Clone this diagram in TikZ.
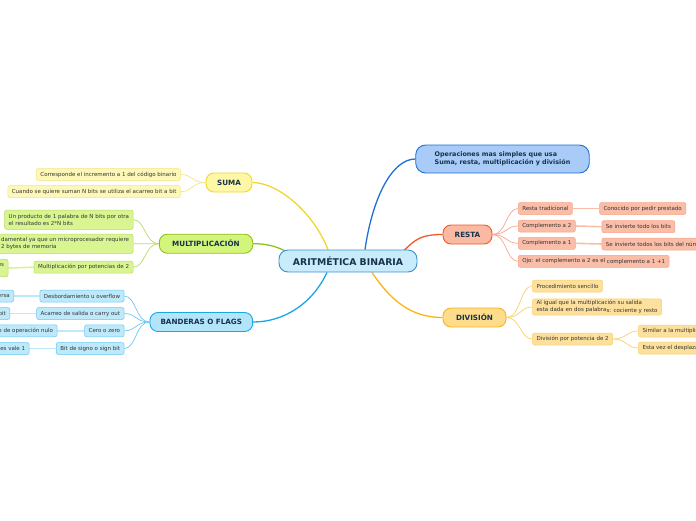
\documentclass[tikz,border=0pt]{standalone}
\usepackage{fontspec}
\setmainfont{DejaVu Sans}
\usetikzlibrary{backgrounds}

\definecolor{rootfill}{HTML}{C8ECFB}
\definecolor{rootline}{HTML}{3A8FD0}
\definecolor{textdark}{HTML}{17324A}
\definecolor{leaftext}{HTML}{333333}
\definecolor{opsfill}{HTML}{A8CBF8}
\definecolor{opsline}{HTML}{1F6FD8}
\definecolor{restafill}{HTML}{F9B9A3}
\definecolor{restaline}{HTML}{F05A28}
\definecolor{restaleaf}{HTML}{F9BDA8}
\definecolor{restatwig}{HTML}{F6A58A}
\definecolor{divfill}{HTML}{FDDC8C}
\definecolor{divline}{HTML}{F9B515}
\definecolor{divleaf}{HTML}{FDE09C}
\definecolor{divtwig}{HTML}{F8CF6E}
\definecolor{sumafill}{HTML}{FDF7A6}
\definecolor{sumaline}{HTML}{F0D630}
\definecolor{sumaleaf}{HTML}{FDF8B8}
\definecolor{sumatwig}{HTML}{F2E58A}
\definecolor{multfill}{HTML}{D4F57C}
\definecolor{multline}{HTML}{8CC21E}
\definecolor{multleaf}{HTML}{D8F592}
\definecolor{multtwig}{HTML}{B8DC66}
\definecolor{flagfill}{HTML}{B2E5FA}
\definecolor{flagline}{HTML}{1BA6E6}
\definecolor{flagleaf}{HTML}{BDE9FB}
\definecolor{flagtwig}{HTML}{6CC8F0}

\begin{document}
\begin{tikzpicture}[
  x=1pt, y=-1pt,
  root/.style={draw=rootline, fill=rootfill, line width=0.9pt, rounded corners=9pt, minimum width=138pt, minimum height=22pt, inner sep=0pt, text=textdark, font=\fontsize{9.3}{10.5}\selectfont\bfseries},
  branch/.style={line width=0.9pt, rounded corners=8pt, minimum height=19pt, inner sep=0pt, text=textdark, font=\fontsize{7.2}{8}\selectfont\bfseries},
  leaf/.style={line width=0.5pt, rounded corners=2pt, minimum height=12pt, inner xsep=4pt, inner ysep=1.5pt, align=left, text=leaftext, font=\fontsize{5.5}{6.8}\selectfont},
  link/.style={line width=1.3pt},
  twig/.style={line width=0.7pt},
  stem/.style={line width=1.6pt}
]
  \useasboundingbox (0,0) rectangle (696,520);
  \clip (0,0) rectangle (696,520);

  % centre and top
  \node[root] (root) at (348,261) {ARITMÉTICA BINARIA};
  \node[draw=opsline, fill=opsfill, line width=0.9pt, rounded corners=10pt, minimum height=28pt, inner xsep=19pt, inner ysep=0pt, align=left, text=textdark, font=\fontsize{6.4}{8}\selectfont\bfseries] (ops) at (502.5,159) {Operaciones mas simples que usa\\Suma, resta, multiplicación y división};

  % resta
  \node[branch, draw=restaline, fill=restafill, minimum width=49pt] (resta) at (467.5,234.5) {RESTA};
  \node[leaf, draw=restatwig, fill=restaleaf, anchor=west] (r1) at (518,208.5) {Resta tradicional};
  \node[leaf, draw=restatwig, fill=restaleaf, anchor=west] (r2) at (518,226) {Complemento a 2};
  \node[leaf, draw=restatwig, fill=restaleaf, anchor=west] (r3) at (518,243.3) {Complemento a 1};
  \node[leaf, draw=restatwig, fill=restaleaf, anchor=west] (r4) at (518,261.3) {Ojo: el complemento a 2 es el \raisebox{-1pt}{complemento a 1 +1}};
  \node[leaf, draw=restatwig, fill=restaleaf, anchor=west] (r1c) at (599.3,208.5) {Conocido por pedir prestado};
  \node[leaf, draw=restatwig, fill=restaleaf, anchor=west] (r2c) at (601.7,226.7) {Se invierte todo los bits};
  \node[leaf, draw=restatwig, fill=restaleaf, anchor=west] (r3c) at (601.7,244) {Se invierte todos los bits del número};

  % division
  \node[branch, draw=divline, fill=divfill, minimum width=63pt] (division) at (474.5,317.5) {DIVISIÓN};
  \node[leaf, draw=divtwig, fill=divleaf, anchor=west] (d1) at (532.3,286) {Procedimiento sencillo};
  \node[leaf, draw=divtwig, fill=divleaf, anchor=west] (d2) at (532.3,307) {Al igual que la multiplicación su salida\\esta dada en dos palabra\raisebox{-1pt}{s: cociente y resto}};
  \node[leaf, draw=divtwig, fill=divleaf, anchor=west] (d3) at (532.3,339) {División por potencia de 2};
  \node[leaf, draw=divtwig, fill=divleaf, anchor=west] (d3a) at (638.3,331) {Similar a la multiplicación};
  \node[leaf, draw=divtwig, fill=divleaf, anchor=west] (d3b) at (638.3,348) {Esta vez el desplazamiento};

  % suma
  \node[branch, draw=sumaline, fill=sumafill, minimum width=46pt] (suma) at (229,182.5) {SUMA};
  \node[leaf, draw=sumatwig, fill=sumaleaf, anchor=east] (s1) at (180.7,174.5) {Corresponde el incremento a 1 del código binario};
  \node[leaf, draw=sumatwig, fill=sumaleaf, anchor=east] (s2) at (180.7,191.7) {Cuando se quiere suman N bits se utiliza el acarreo bit a bit};

  % multiplicacion
  \node[branch, draw=multline, fill=multfill, minimum width=93.4pt] (mult) at (206,243.7) {MULTIPLICACIÓN};
  \node[leaf, draw=multtwig, fill=multleaf, anchor=east, minimum height=19.3pt] (m1) at (133.3,219.7) {Un producto de 1 palabra de N bits por otra\\el resultado es 2*N bits};
  \node[leaf, draw=multtwig, fill=multleaf, anchor=east, minimum height=19.3pt] (m2) at (133.3,243.8) {damental ya que un microprocesador requiere\\2 bytes de memoria};
  \node[leaf, draw=multtwig, fill=multleaf, anchor=east] (m3) at (133.3,267.2) {Multiplicación por potencias de 2};
  \node[leaf, draw=multtwig, fill=multleaf, anchor=east, minimum height=17.4pt, text width=20pt, align=right] (m3a) at (8.3,268) {es\\\mbox{}};

  % banderas
  \node[branch, draw=flagline, fill=flagfill, minimum width=102.7pt] (flags) at (201.3,322) {BANDERAS O FLAGS};
  \node[leaf, draw=flagtwig, fill=flagleaf, anchor=east] (f1) at (124.3,296) {Desbordamiento u overflow};
  \node[leaf, draw=flagtwig, fill=flagleaf, anchor=east] (f2) at (124.3,313.5) {Acarreo de salida o carry out};
  \node[leaf, draw=flagtwig, fill=flagleaf, anchor=east] (f3) at (124.3,330.8) {Cero o zero};
  \node[leaf, draw=flagtwig, fill=flagleaf, anchor=east] (f4) at (124.3,348.5) {Bit de signo o sign bit};
  \node[leaf, draw=flagtwig, fill=flagleaf, anchor=east] (f1a) at (14,296) {ersa};
  \node[leaf, draw=flagtwig, fill=flagleaf, anchor=east] (f2a) at (10,313.5) {bit};
  \node[leaf, draw=flagtwig, fill=flagleaf, anchor=east] (f3a) at (57.3,330.8) {o de operación nulo};
  \node[leaf, draw=flagtwig, fill=flagleaf, anchor=east] (f4a) at (29.3,348.5) {es vale 1};

  \begin{scope}[on background layer]
    % main branches
    \draw[link, opsline] ([xshift=17pt]root.north) .. controls +(8,-55) and +(-22,0) .. (ops.west);
    \draw[link, restaline] ([xshift=55pt,yshift=-2pt]root.north) .. controls +(12,-12) and +(-22,0) .. (resta.west);
    \draw[link, divline] ([xshift=24pt]root.south) .. controls +(20,30) and +(-30,0) .. (division.west);
    \draw[link, sumaline] ([xshift=-20pt]root.north) .. controls +(-15,-38) and +(25,0) .. (suma.east);
    \draw[link, multline] ([xshift=8pt,yshift=-2pt]root.north west) .. controls +(-12,-6) and +(12,0) .. (mult.east);
    \draw[link, flagline] ([xshift=-21pt]root.south) .. controls +(-15,32) and +(30,0) .. (flags.east);

    % resta leaves
    \foreach \leafname in {r1,r2,r3,r4}
      \draw[twig, restatwig] (resta.east) .. controls +(14,0) and +(-12,0) .. (\leafname.west);
    \draw[stem, restaleaf] (r1.east) -- (r1c.west);
    \draw[stem, restaleaf] (r2.east) -- (r2c.west);
    \draw[stem, restaleaf] (r3.east) -- (r3c.west);

    % division leaves
    \foreach \leafname in {d1,d2,d3}
      \draw[twig, divtwig] (division.east) .. controls +(14,0) and +(-12,0) .. (\leafname.west);
    \draw[twig, divtwig] (d3.east) .. controls +(14,0) and +(-12,0) .. (d3a.west);
    \draw[twig, divtwig] (d3.east) .. controls +(14,0) and +(-12,0) .. (d3b.west);

    % suma leaves
    \foreach \leafname in {s1,s2}
      \draw[twig, sumatwig] (suma.west) .. controls +(-14,0) and +(12,0) .. (\leafname.east);

    % multiplicacion leaves
    \foreach \leafname in {m1,m2,m3}
      \draw[twig, multtwig] (mult.west) .. controls +(-14,0) and +(12,0) .. (\leafname.east);
    \draw[stem, multleaf] (m3.west) -- (m3a.east);

    % banderas leaves
    \foreach \leafname in {f1,f2,f3,f4}
      \draw[twig, flagtwig] (flags.west) .. controls +(-14,0) and +(12,0) .. (\leafname.east);
    \draw[stem, flagleaf] (f1.west) -- (f1a.east);
    \draw[stem, flagleaf] (f2.west) -- (f2a.east);
    \draw[stem, flagleaf] (f3.west) -- (f3a.east);
    \draw[stem, flagleaf] (f4.west) -- (f4a.east);
  \end{scope}
\end{tikzpicture}
\end{document}
